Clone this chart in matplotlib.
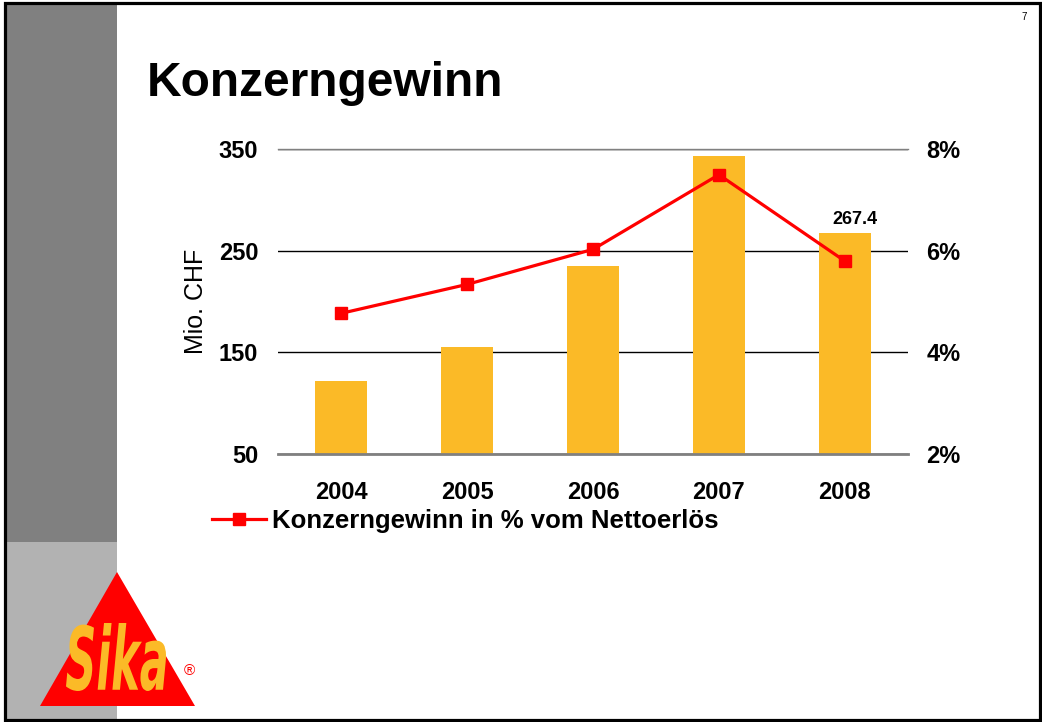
import matplotlib
matplotlib.use("Agg")
import matplotlib.pyplot as plt
from matplotlib.patches import Rectangle, Polygon, PathPatch
from matplotlib.lines import Line2D
from matplotlib.ticker import FuncFormatter
from matplotlib.textpath import TextPath
from matplotlib.font_manager import FontProperties
from matplotlib.transforms import Affine2D

# ---- data ----
years = ["2004", "2005", "2006", "2007", "2008"]
profit_mio_chf = [122, 155, 235, 343, 267.4]
profit_pct = [4.77, 5.34, 6.03, 7.5, 5.8]
left_ticks = [50, 150, 250, 350]
right_ticks = [2, 4, 6, 8]
title = "Konzerngewinn"
ylabel = "Mio. CHF"
legend_label = "Konzerngewinn in % vom Nettoerlös"
annot_index = 4
annot_text = "267.4"

plt.rcParams['font.family'] = ['Liberation Sans', 'DejaVu Sans']

W, H = 1042, 722
fig = plt.figure(figsize=(W / 100, H / 100), dpi=100)
fig.patch.set_facecolor("white")

# background / slide decoration axes in pixel coords
bg = fig.add_axes([0, 0, 1, 1], zorder=0)
bg.set_xlim(0, W)
bg.set_ylim(H, 0)
bg.axis("off")
bg.add_patch(Rectangle((6, 3), 111, 539, facecolor="#808080", edgecolor="none"))
bg.add_patch(Rectangle((6, 542), 111, 177, facecolor="#B2B2B2", edgecolor="none"))
bg.add_patch(Rectangle((4.5, 2.5), 1035.5, 717.5, facecolor="none", edgecolor="black", lw=2.3))
# Sika logo
bg.add_patch(Polygon([(117, 572), (40, 706), (195, 706)], closed=True,
                     facecolor="#FF0000", edgecolor="none"))
tp = TextPath((0, 0), "Sika", size=1,
              prop=FontProperties(family="DejaVu Sans", weight="bold", style="italic"))
ext = tp.get_extents()
sx = 100 / ext.width
sy = 68 / ext.height
logo_tr = Affine2D().translate(-ext.x0, -ext.y0).scale(sx, -sy).translate(66, 691) + bg.transData
bg.add_patch(PathPatch(tp, facecolor="#FBBA27", edgecolor="none", transform=logo_tr))
bg.text(189, 671, "®", color="#FF0000", fontsize=11, ha="center", va="center")
bg.text(1024, 17, "7", color="black", fontsize=7, ha="center", va="center")

# title
fig.text(147 / W, 1 - 96 / H, title, fontsize=34.5, fontweight="bold",
         ha="left", va="baseline")

# chart axes
left, right = 278.3 / W, 907.7 / W
bottom, top = 1 - 454 / H, 1 - 149.3 / H
ax = fig.add_axes([left, bottom, right - left, top - bottom], zorder=1)
ax.set_facecolor("none")
x = list(range(len(years)))
ax.bar(x, profit_mio_chf, width=0.417, color="#FBBA27", zorder=2)
ax.set_xlim(-0.5, len(years) - 0.5)
ax.set_ylim(left_ticks[0], left_ticks[-1])
ax.set_yticks(left_ticks)
ax.set_xticks(x)
ax.set_xticklabels(years)
ax.set_axisbelow(True)
ax.yaxis.grid(True, color="black", lw=1.0)
for s in ["left", "right"]:
    ax.spines[s].set_visible(False)
ax.spines["top"].set_color("#808080")
ax.spines["top"].set_linewidth(1.0)
ax.spines["bottom"].set_color("#808080")
ax.spines["bottom"].set_linewidth(2.0)
ax.tick_params(axis="both", length=0)
ax.tick_params(axis="y", pad=14.5, labelsize=17)
ax.tick_params(axis="x", pad=19.5, labelsize=17)
for lab in ax.get_xticklabels() + ax.get_yticklabels():
    lab.set_fontweight("bold")
ax.set_ylabel(ylabel, fontsize=18, labelpad=8)

ax.annotate(annot_text, (x[annot_index], profit_mio_chf[annot_index]),
            xytext=(7, 4), textcoords="offset points", ha="center", va="bottom",
            fontsize=13, fontweight="bold")

ax2 = ax.twinx()
ax2.set_zorder(2)
ax2.patch.set_visible(False)
line, = ax2.plot(x, profit_pct, color="#FF0000", lw=2.3, marker="s",
                 markersize=8, markerfacecolor="#FF0000", markeredgecolor="#FF0000")
ax2.set_ylim(right_ticks[0], right_ticks[-1])
ax2.set_yticks(right_ticks)
ax2.yaxis.set_major_formatter(FuncFormatter(lambda v, p: f"{v:.0f}%"))
for s in ax2.spines.values():
    s.set_visible(False)
ax2.tick_params(axis="y", length=0, pad=13.5, labelsize=17)
for lab in ax2.get_yticklabels():
    lab.set_fontweight("bold")

handle = Line2D([], [], color="#FF0000", lw=2.3, marker="s", markersize=8)
fig.legend([handle], [legend_label], loc="center left",
           bbox_to_anchor=(212 / W, 1 - 521 / H), frameon=False,
           prop={"size": 18.5, "weight": "bold"}, handlelength=2.1,
           handletextpad=0.25, borderpad=0, borderaxespad=0)

fig.savefig("out.png", dpi=100, facecolor="white")
